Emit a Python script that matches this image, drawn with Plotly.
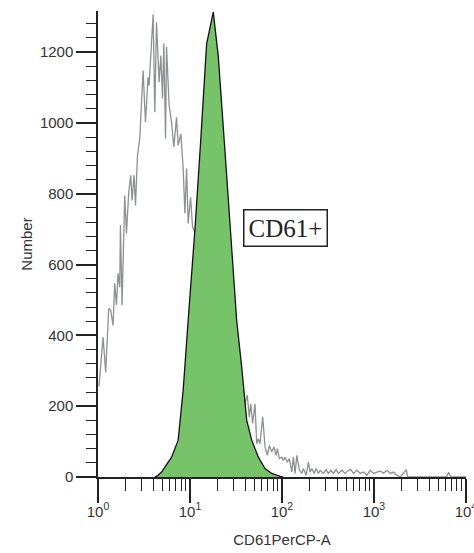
import plotly.graph_objects as go

# Grey histogram (unstained / control) : fluorescence value, event count
grey_x = [1.025, 1.134, 1.213, 1.308, 1.375, 1.457, 1.520, 1.586, 1.652, 1.723, 1.754, 1.826,
          1.953, 2.039, 2.160, 2.271, 2.347, 2.467, 2.556, 2.687, 2.846, 3.092, 3.283, 3.504,
          3.594, 3.817, 3.973, 4.147, 4.327, 4.619, 4.820, 5.029, 5.196, 5.424, 5.562, 5.934,
          6.303, 6.677, 7.145, 7.437, 7.960, 8.434, 8.801, 9.182, 9.559, 10.15, 10.67,
          14.0, 18.0, 24.0, 30.0, 36.0,
          39.63, 41.98, 44.15, 45.75, 48.08, 50.93, 53.16, 55.34, 57.71, 61.79, 65.46, 69.34,
          72.93, 77.45, 82.03, 86.29, 89.13, 93.72, 99.5, 103.6, 108.1, 114.5, 120.4, 127.9,
          133.1, 138.9, 145.0, 154.8, 164.3, 171.0, 183.2, 194.1, 202.4, 211.2, 223.8, 235.2,
          249.2, 260.0, 282.5, 302.3, 320.0, 340, 363, 388, 411, 448, 486, 529, 561, 600, 653,
          709, 771, 839, 912, 991, 1079, 1172, 1274, 1387, 1506, 1637, 1782, 1936, 2250, 2323,
          6135, 6500, 6867, 10000]
grey_y = [256, 395, 296, 476, 471, 428, 547, 485, 575, 536, 711, 485,
          795, 688, 805, 852, 781, 852, 767, 908, 956, 1148, 1002, 1129,
          1106, 1209, 1306, 1030, 1284, 1115, 1190, 1069, 1224, 956, 1214, 1049,
          1002, 932, 1016, 936, 969, 871, 744, 871, 716, 790, 706,
          640, 560, 470, 380, 300,
          207, 231, 169, 207, 151, 207, 94, 108, 94, 169, 85, 61,
          89, 71, 85, 61, 80, 52, 56, 47, 56, 42, 52, 14,
          56, 10, 61, 19, 10, 24, 5, 42, 14, 24, 10, 24,
          10, 19, 10, 21, 10, 19, 10, 21, 10, 19, 10, 19, 21, 10, 19,
          10, 14, 5, 19, 10, 14, 17, 11, 19, 10, 14, 5, 0, 21, 0,
          0, 13, 0, 0]

# Green histogram (CD61+ population)
green_x = [4.15, 4.41, 4.91, 5.46, 6.31, 7.44, 8.43, 9.73, 11.30, 12.98, 15.17, 17.91,
           20.28, 23.99, 28.38, 32.19, 36.49, 39.15, 41.40, 46.91, 55.34, 65.46, 77.45,
           95.35, 102.8]
green_y = [0, 3, 14, 33, 56, 104, 245, 470, 696, 936, 1223, 1313,
           1190, 922, 640, 442, 311, 231, 160, 104, 56, 24, 10,
           2, 0]

x_tickvals = [1, 10, 100, 1000, 10000]
x_ticktext = ["10<sup>0</sup>", "10<sup>1</sup>", "10<sup>2</sup>", "10<sup>3</sup>", "10<sup>4</sup>"]
x_minor = [m * 10 ** d for d in range(4) for m in range(2, 10)]

fig = go.Figure()
fig.add_trace(go.Scatter(x=grey_x, y=grey_y, mode="lines",
                         line=dict(color="#8e9092", width=1.3), hoverinfo="skip"))
fig.add_trace(go.Scatter(x=green_x, y=green_y, mode="lines", fill="tozeroy",
                         fillcolor="#77c36a", line=dict(color="#111111", width=1.3),
                         hoverinfo="skip"))

fig.add_annotation(x=2.039, y=704, xref="x", yref="y", text="CD61+", showarrow=False,
                   font=dict(family="Liberation Serif", size=25, color="#222222"),
                   bordercolor="#222222", borderwidth=1.5, borderpad=4, bgcolor="white")

axis_font = dict(family="Liberation Sans, Arial", size=15, color="#333333")
fig.update_layout(
    width=474, height=553,
    margin=dict(l=98, r=8, t=11, b=76),
    paper_bgcolor="white", plot_bgcolor="white",
    showlegend=False,
    font=axis_font,
    xaxis=dict(type="log", range=[0, 4.001], tickmode="array", tickvals=x_tickvals,
               ticktext=x_ticktext, ticks="outside", ticklen=24, tickwidth=1.5,
               tickcolor="#222222", showline=True, linecolor="#222222", linewidth=1.5,
               showgrid=False, zeroline=False, tickfont=axis_font, ticklabelstandoff=-4,
               ticklabeloverflow="allow", automargin=False,
               minor=dict(tickmode="array", tickvals=x_minor, ticks="outside", ticklen=12,
                          tickwidth=1.3, tickcolor="#222222", showgrid=False),
               title=dict(text="CD61PerCP-A", font=dict(family="Liberation Sans, Arial", size=15, color="#333333"),
                          standoff=16)),
    yaxis=dict(range=[0, 1316], tickmode="linear", tick0=0, dtick=200, ticks="outside",
               ticklen=20, tickwidth=1.5, tickcolor="#222222", showline=True,
               linecolor="#222222", linewidth=1.5, showgrid=False, zeroline=False,
               tickfont=axis_font, automargin=False,
               minor=dict(dtick=40, ticks="outside", ticklen=10, tickwidth=1.3,
                          tickcolor="#222222", showgrid=False),
               title=dict(text="Number", font=dict(family="Liberation Sans, Arial", size=15, color="#333333"),
                          standoff=4)),
)

fig.write_html("out.html")
